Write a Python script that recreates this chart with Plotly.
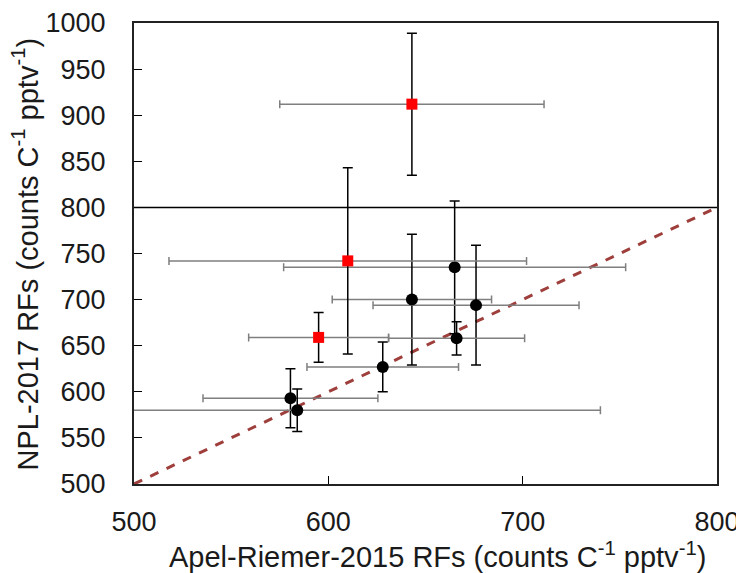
import plotly.graph_objects as go

# Red squares
red_x = [643, 610, 595]
red_y = [912, 742, 659]
red_xerr = [68, 92, 36]
red_yerr = [77, 101, 27]

# Black circles
blk_x = [665, 643, 676, 666, 628, 580.5, 584]
blk_y = [735, 700, 694, 658, 627, 593, 580]
blk_xerr = [88, 41, 53, 35, 39, 45, 156]
blk_yerr = [72, 71, 65, 18, 27, 32, 23]

one_to_one = [500, 800]
hline_x = [500, 800]
hline_y = [800, 800]

x_ticks = [500, 600, 700, 800]
x_title = "Apel-Riemer-2015 RFs (counts C<sup>-1</sup> pptv<sup>-1</sup>)"
y_title = "NPL-2017 RFs (counts C<sup>-1</sup> pptv<sup>-1</sup>)"

fig = go.Figure()

fig.add_trace(go.Scatter(x=hline_x, y=hline_y, mode="lines",
                         line=dict(color="black", width=1.5), showlegend=False, hoverinfo="skip"))

fig.add_trace(go.Scatter(x=one_to_one, y=one_to_one, mode="lines",
                         line=dict(color="#9E3F3C", width=3, dash="dash"), showlegend=False))

fig.add_trace(go.Scatter(
    x=blk_x, y=blk_y, mode="markers",
    marker=dict(symbol="circle", color="black", size=12),
    error_x=dict(type="data", array=blk_xerr, color="#7f7f7f", thickness=1.5, width=4),
    error_y=dict(type="data", array=blk_yerr, color="black", thickness=1.5, width=5),
    showlegend=False))

fig.add_trace(go.Scatter(
    x=red_x, y=red_y, mode="markers",
    marker=dict(symbol="square", color="#ff0000", size=11),
    error_x=dict(type="data", array=red_xerr, color="#7f7f7f", thickness=1.5, width=4),
    error_y=dict(type="data", array=red_yerr, color="black", thickness=1.5, width=5),
    showlegend=False))

font = "Liberation Sans, Arial, sans-serif"

fig.update_layout(
    width=736, height=565,
    margin=dict(l=126, r=27, t=15, b=89),
    paper_bgcolor="white", plot_bgcolor="white",
    font=dict(family=font, size=27, color="#1a1a1a"),
    xaxis=dict(range=[500, 800], tickvals=x_ticks, ticks="inside", ticklen=8,
               tickcolor="black", showline=True, linecolor="#222222", linewidth=2, mirror=True,
               showgrid=False, zeroline=False, tickfont=dict(size=27),
               ticklabelstandoff=13, automargin=False),
    yaxis=dict(range=[500, 1000], dtick=50, ticks="inside", ticklen=8,
               tickcolor="black", showline=True, linecolor="#222222", linewidth=2, mirror=True,
               showgrid=False, zeroline=False, tickfont=dict(size=27),
               ticklabelstandoff=21, automargin=False),
    annotations=[
        dict(text=x_title, xref="paper", yref="paper", x=0.52, y=-0.155,
             xanchor="center", yanchor="middle", showarrow=False, font=dict(size=29)),
        dict(text=y_title, xref="paper", yref="paper", x=-0.187, y=0.5,
             xanchor="center", yanchor="middle", textangle=-90, showarrow=False,
             font=dict(size=29)),
    ],
)

fig.write_html("out.html")
